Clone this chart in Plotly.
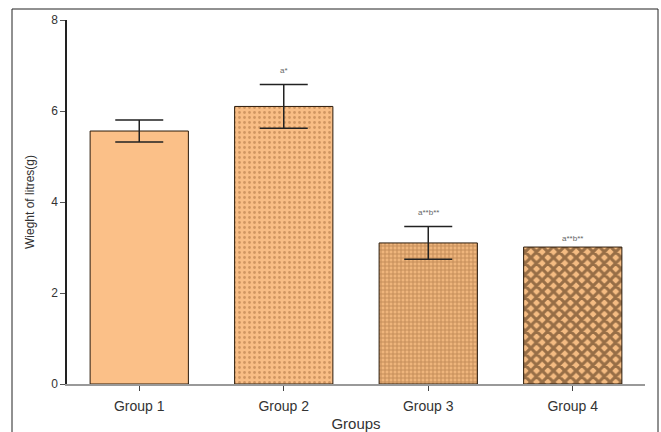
import plotly.graph_objects as go

# Data
groups = ["Group 1", "Group 2", "Group 3", "Group 4"]
weights = [5.56, 6.10, 3.10, 3.01]
sem = [0.24, 0.48, 0.36, 0.0]
sig_labels = ["", "a*", "a**b**", "a**b**"]
sig_y = [None, 6.9, 3.78, 3.2]

# Fill patterns per group
pattern_shapes = ["", ".", "+", "x"]
pattern_bg = ["#FBC088", "#F8BD85", "#EFB57C", "#F5BC82"]
pattern_fg = ["#FBC088", "#A8703E", "#9A6536", "#3A1F0A"]
pattern_size = [8, 5, 4, 8]
pattern_sol = [0.2, 0.25, 0.45, 0.62]

W, H = 661, 432
L, R, T, B = 67, 16, 20, 48

fig = go.Figure()
for i, g in enumerate(groups):
    fig.add_trace(go.Bar(
        x=[g],
        y=[weights[i]],
        width=0.68,
        marker=dict(
            color=pattern_bg[i],
            line=dict(color="#2a1a0a", width=1),
            pattern=dict(
                shape=pattern_shapes[i],
                fgcolor=pattern_fg[i],
                size=pattern_size[i],
                solidity=pattern_sol[i],
                fillmode="overlay",
            ),
        ),
        error_y=dict(type="data", array=[sem[i]], visible=sem[i] > 0,
                     color="#222222", thickness=1.5, width=24),
        hoverinfo="skip",
    ))

for g, lab, yy in zip(groups, sig_labels, sig_y):
    if lab:
        fig.add_annotation(x=g, y=yy, text=lab, showarrow=False,
                           font=dict(size=8, color="#666666"))

# outer frame around the figure (pixel -> paper coordinates)
pw, ph = W - L - R, H - T - B
def px(x):
    return (x - L) / pw
def py(y):
    return (H - B - y) / ph

fig.add_shape(type="rect", xref="paper", yref="paper",
              x0=px(12), x1=px(658), y0=py(9), y1=py(440),
              line=dict(color="#222222", width=1), fillcolor="rgba(0,0,0,0)")

fig.update_layout(
    width=W, height=H,
    margin=dict(l=L, r=R, t=T, b=B),
    plot_bgcolor="white", paper_bgcolor="white",
    font=dict(family="Liberation Sans, Arial, sans-serif", color="#333333"),
    showlegend=False,
    barmode="overlay",
)
fig.update_yaxes(
    range=[0, 8], tickvals=[0, 2, 4, 6, 8], automargin=False,
    showgrid=False, zeroline=False,
    showline=True, linecolor="#222222", linewidth=1.5,
    ticks="outside", ticklen=5, tickcolor="#555555",
    tickfont=dict(size=12, color="#333333"),
    title=dict(text="Wieght of litres(g)", font=dict(size=12, color="#333333"), standoff=14),
)
fig.update_xaxes(
    automargin=False,
    showgrid=False, zeroline=False,
    showline=True, linecolor="#999999", linewidth=1.5,
    ticks="outside", ticklen=5, tickcolor="#444444",
    ticklabelstandoff=3,
    tickfont=dict(size=14, color="#333333"),
    title=dict(text="Groups", font=dict(size=15, color="#333333"), standoff=6),
)

fig.write_html("out.html")
